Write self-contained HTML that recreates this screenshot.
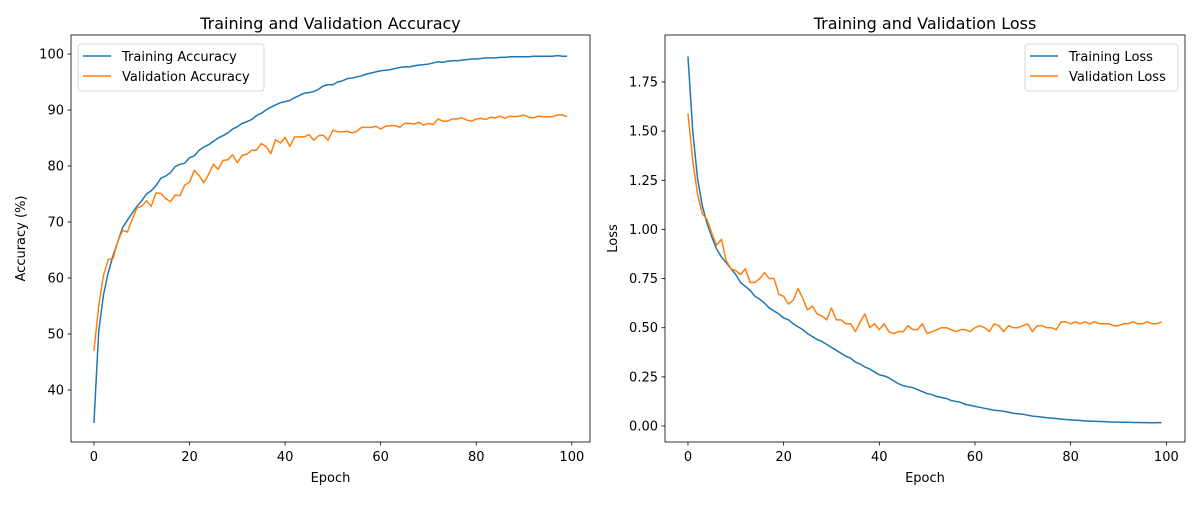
<!DOCTYPE html>
<html><head><meta charset="utf-8"><style>
body{margin:0;background:#fff;font-family:"Liberation Sans","DejaVu Sans",sans-serif}
svg text{font-family:"DejaVu Sans","Liberation Sans",sans-serif;fill:#000}
</style></head><body>
<svg id="c" width="1200" height="500" xmlns="http://www.w3.org/2000/svg"></svg>
<script>
const epochs = Array.from({length:100},(_,i)=>i);
const trainAcc=[34.1,50.5,57,61,64,66.5,69,70.3,71.6,72.8,73.8,75,75.6,76.5,77.8,78.2,78.8,79.9,80.3,80.5,81.5,81.8,82.8,83.4,83.8,84.4,85,85.4,85.9,86.6,87,87.6,87.9,88.3,89,89.4,90,90.5,90.9,91.3,91.5,91.7,92.2,92.6,93,93.1,93.3,93.7,94.3,94.5,94.5,95,95.2,95.6,95.7,95.9,96.1,96.4,96.6,96.8,97,97.1,97.2,97.4,97.6,97.7,97.7,97.9,98,98.1,98.2,98.4,98.6,98.5,98.7,98.8,98.8,98.9,99,99.1,99.1,99.2,99.3,99.3,99.3,99.4,99.4,99.5,99.5,99.5,99.5,99.5,99.6,99.6,99.6,99.6,99.6,99.7,99.6,99.6];
const valAcc=[47,55,60.5,63.3,63.5,66.5,68.5,68.2,70.5,72.5,72.8,73.8,72.8,75.2,75.1,74.2,73.6,74.8,74.7,76.6,77.1,79.2,78.3,77,78.5,80.3,79.4,81,81.1,82,80.6,81.9,82.1,82.8,82.8,84,83.5,82.2,84.7,84.1,85.1,83.5,85.2,85.2,85.2,85.6,84.6,85.4,85.5,84.6,86.4,86.1,86.1,86.2,85.9,86.2,86.9,86.9,86.9,87.1,86.6,87.1,87.2,87.2,86.9,87.6,87.6,87.5,87.8,87.3,87.6,87.4,88.4,88,88,88.4,88.4,88.6,88.2,88,88.4,88.5,88.3,88.7,88.6,88.9,88.5,88.9,88.8,88.9,89.1,88.7,88.6,88.9,88.8,88.8,88.8,89.1,89.1,88.8];
const trainLoss=[1.88,1.5,1.26,1.12,1.03,0.96,0.9,0.86,0.83,0.8,0.77,0.73,0.71,0.69,0.66,0.645,0.625,0.6,0.585,0.57,0.55,0.54,0.52,0.505,0.49,0.47,0.455,0.44,0.43,0.415,0.4,0.385,0.37,0.355,0.345,0.325,0.315,0.3,0.29,0.275,0.26,0.255,0.245,0.23,0.215,0.205,0.2,0.195,0.185,0.175,0.165,0.16,0.15,0.145,0.14,0.13,0.125,0.12,0.11,0.105,0.1,0.095,0.09,0.085,0.08,0.078,0.075,0.07,0.065,0.062,0.06,0.055,0.05,0.048,0.045,0.042,0.04,0.038,0.035,0.033,0.031,0.03,0.028,0.026,0.025,0.024,0.023,0.022,0.021,0.02,0.02,0.019,0.019,0.018,0.018,0.017,0.017,0.016,0.017,0.017];
const valLoss=[1.59,1.35,1.18,1.08,1.05,0.98,0.92,0.95,0.84,0.8,0.79,0.77,0.8,0.73,0.73,0.75,0.78,0.75,0.75,0.67,0.66,0.62,0.64,0.7,0.65,0.59,0.61,0.57,0.56,0.54,0.6,0.54,0.54,0.52,0.52,0.48,0.53,0.57,0.5,0.52,0.49,0.52,0.48,0.47,0.48,0.48,0.51,0.49,0.49,0.52,0.47,0.48,0.49,0.5,0.5,0.49,0.48,0.49,0.49,0.48,0.5,0.51,0.5,0.48,0.52,0.51,0.48,0.51,0.5,0.5,0.51,0.52,0.48,0.51,0.51,0.5,0.5,0.49,0.53,0.53,0.52,0.53,0.52,0.53,0.52,0.53,0.52,0.52,0.52,0.51,0.51,0.52,0.52,0.53,0.52,0.52,0.53,0.52,0.52,0.53];
const xTicks=[0,20,40,60,80,100];
const accTicks=[40,50,60,70,80,90,100];
const lossTicks=[0,0.25,0.5,0.75,1.0,1.25,1.5,1.75];

const NS='http://www.w3.org/2000/svg';
const svg=document.getElementById('c');
function mk(tag,attrs,parent){const e=document.createElementNS(NS,tag);for(const k in attrs)e.setAttribute(k,attrs[k]);(parent||svg).appendChild(e);return e;}
function txt(s,attrs,parent){const e=mk('text',attrs,parent);e.textContent=s;return e;}

function panel(cfg){
  const g=mk('g',{});
  
  
  const {L,R,T,B,xmin,xmax,ymin,ymax}=cfg;
  const sx=v=>L+(v-xmin)/(xmax-xmin)*(R-L);
  const sy=v=>B-(v-ymin)/(ymax-ymin)*(B-T);
  cfg.series.forEach(s=>{
    const d=s.data.map((v,i)=>(i?'L':'M')+sx(epochs[i]).toFixed(2)+','+sy(v).toFixed(2)).join('');
    const p=mk('path',{d,fill:'none',stroke:s.color,'stroke-width':1.5,'stroke-linejoin':'round'},g);
    
    
  });
  const fr=mk('rect',{x:L,y:T,width:R-L,height:B-T,fill:'none',stroke:'#000','stroke-width':0.8},g);
  
  
  xTicks.forEach(t=>{
    const x=sx(t);
    mk('line',{x1:x,x2:x,y1:B,y2:B+3.5,stroke:'#000','stroke-width':0.8},g);
    const lb=txt(String(t),{x:x,y:B+19,'font-size':13,'text-anchor':'middle'},g);
    
    
  });
  cfg.yTicks.forEach(t=>{
    const y=sy(t);
    mk('line',{x1:L-3.5,x2:L,y1:y,y2:y,stroke:'#000','stroke-width':0.8},g);
    const lb=txt(cfg.fmt(t),{x:L-7,y:y+4.5,'font-size':13,'text-anchor':'end'},g);
    
    
  });
  const tt=txt(cfg.title,{x:(L+R)/2,y:T-6,'font-size':16,'text-anchor':'middle'},g);
  
  
  const xl=txt('Epoch',{x:(L+R)/2,y:B+40,'font-size':13,'text-anchor':'middle'},g);
  
  
  const yl=txt(cfg.ylabel,{x:0,y:0,'font-size':13,'text-anchor':'middle',transform:`translate(${cfg.ylx},${(T+B)/2}) rotate(-90)`},g);
  
  
  const lg=mk('g',{},g);
  
  
  mk('rect',{x:cfg.lx,y:cfg.ly,width:cfg.lw,height:47,rx:3,fill:'#fff','fill-opacity':0.8,stroke:'#ccc','stroke-width':0.8},lg);
  cfg.series.forEach((s,i)=>{
    const y=cfg.ly+12+i*20;
    const e=mk('g',{},lg);
    
    
    mk('line',{x1:cfg.lx+5,x2:cfg.lx+33,y1:y,y2:y,stroke:s.color,'stroke-width':1.5},e);
    txt(s.label,{x:cfg.lx+44,y:y+5,'font-size':13},e);
  });
}
panel({name:'accuracy-panel',L:71,R:590,T:35,B:442,xmin:-4.8,xmax:103.8,ymin:30.71,ymax:103.39,
  yTicks:accTicks,fmt:t=>String(t),title:'Training and Validation Accuracy',ylabel:'Accuracy (%)',ylx:25,
  lx:78,ly:44,lw:186,
  series:[{id:'training-accuracy-line',label:'Training Accuracy',data:trainAcc,color:'#1f77b4'},
          {id:'validation-accuracy-line',label:'Validation Accuracy',data:valAcc,color:'#ff7f0e'}]});
panel({name:'loss-panel',L:665,R:1185,T:35,B:442,xmin:-4.8,xmax:103.9,ymin:-0.0814,ymax:1.989,
  yTicks:lossTicks,fmt:t=>t.toFixed(2),title:'Training and Validation Loss',ylabel:'Loss',ylx:617,
  lx:1025,ly:44,lw:153,
  series:[{id:'training-loss-line',label:'Training Loss',data:trainLoss,color:'#1f77b4'},
          {id:'validation-loss-line',label:'Validation Loss',data:valLoss,color:'#ff7f0e'}]});
</script>
</body></html>
